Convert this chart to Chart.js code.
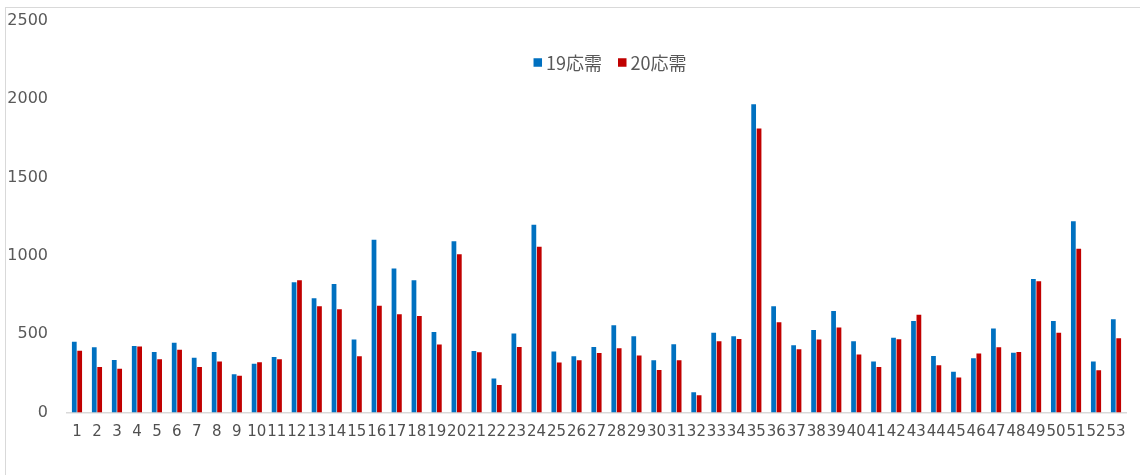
<!DOCTYPE html>
<html>
<head>
<meta charset="utf-8">
<script src="https://cdn.jsdelivr.net/npm/chart.js@4.4.1/dist/chart.umd.min.js"></script>
<style>
  html, body { margin: 0; padding: 0; background: #fff; overflow: hidden; }
  #frame { position: absolute; left: 5px; top: 7px; width: 1300px; height: 600px; border: 1px solid #d9d9d9; }
  #c { position: absolute; left: 0; top: 0; }
</style>
</head>
<body>
<div id="frame"></div>
<canvas id="c" width="1140" height="475"></canvas>
<script>
// Category labels (1..53)
const categories = ['1','2','3','4','5','6','7','8','9','10','11','12','13','14','15','16','17','18','19','20',
  '21','22','23','24','25','26','27','28','29','30','31','32','33','34','35','36','37','38','39','40',
  '41','42','43','44','45','46','47','48','49','50','51','52','53'];

// 19応需
const values19 = [451, 417, 336, 425, 387, 446, 349, 387, 245, 311,
  355, 831, 729, 820, 466, 1103, 920, 844, 514, 1093,
  393, 217, 504, 1199, 389, 359, 419, 557, 487, 334,
  436, 130, 510, 487, 1968, 678, 429, 527, 648, 455,
  325, 478, 585, 361, 261, 347, 536, 381, 853, 585,
  1222, 325, 595];

// 20応需
const values20 = [395, 290, 279, 421, 340, 400, 290, 325, 234, 321,
  340, 844, 678, 659, 359, 682, 627, 616, 434, 1010,
  385, 176, 419, 1059, 319, 334, 380, 410, 364, 272,
  334, 110, 455, 469, 1813, 576, 404, 466, 542, 370,
  291, 468, 625, 302, 223, 376, 417, 387, 838, 510,
  1046, 270, 474];

const seriesNames = ['19応需', '20応需'];
const seriesColors = ['#0070C0', '#C00000'];
const yTicks = [0, 500, 1000, 1500, 2000, 2500];

// Legend row drawn over the top of the plot area
const overlayLegend = {
  id: 'overlayLegend',
  afterDraw(chart, args, opts) {
    const ctx = chart.ctx;
    ctx.save();
    ctx.font = opts.font;
    ctx.textBaseline = 'middle';
    const items = chart.data.datasets.map(d => ({
      label: d.label,
      color: d.backgroundColor,
      w: ctx.measureText(d.label).width
    }));
    const total = items.reduce((s, it) => s + opts.box + opts.boxGap + it.w, 0) + opts.itemGap * (items.length - 1);
    let x = opts.centerX - total / 2;
    const y = opts.y;
    items.forEach(it => {
      ctx.fillStyle = it.color;
      ctx.fillRect(x, y - opts.box / 2, opts.box, opts.box);
      x += opts.box + opts.boxGap;
      ctx.fillStyle = opts.color;
      ctx.fillText(it.label, x, y + 1);
      x += it.w + opts.itemGap;
    });
    ctx.restore();
  }
};

new Chart(document.getElementById('c'), {
  type: 'bar',
  data: {
    labels: categories,
    datasets: [
      { label: seriesNames[0], data: values19, backgroundColor: seriesColors[0] },
      { label: seriesNames[1], data: values20, backgroundColor: seriesColors[1] }
    ]
  },
  options: {
    responsive: false,
    animation: false,
    datasets: {
      bar: { categoryPercentage: 0.54, barPercentage: 0.88 }
    },
    layout: { padding: { top: 21, right: 14, left: 0, bottom: 0 } },
    plugins: {
      legend: { display: false },
      tooltip: { enabled: false },
      overlayLegend: {
        centerX: 610, y: 62.5, box: 8.5, boxGap: 4, itemGap: 16,
        font: '18px "Noto Sans CJK JP", sans-serif', color: '#595959'
      }
    },
    scales: {
      x: {
        grid: { display: false, drawTicks: false },
        border: { display: true, color: '#d9d9d9', width: 1.5 },
        ticks: {
          autoSkip: false, maxRotation: 0, minRotation: 0, padding: 11,
          color: '#505050', font: { family: 'DejaVu Sans', size: 15 }
        },
        afterFit(scale) { scale.height = 62.5; }
      },
      y: {
        min: 0, max: 2500,
        afterBuildTicks(scale) { scale.ticks = yTicks.map(v => ({ value: v })); },
        grid: { display: false, drawTicks: true, tickLength: 19 },
        border: { display: false },
        ticks: {
          padding: 0, color: '#595959',
          font: { family: 'DejaVu Sans', size: 16 },
          callback: (v) => String(v)
        },
        afterFit(scale) { scale.width = 67; }
      }
    }
  },
  plugins: [overlayLegend]
});
</script>
</body>
</html>
